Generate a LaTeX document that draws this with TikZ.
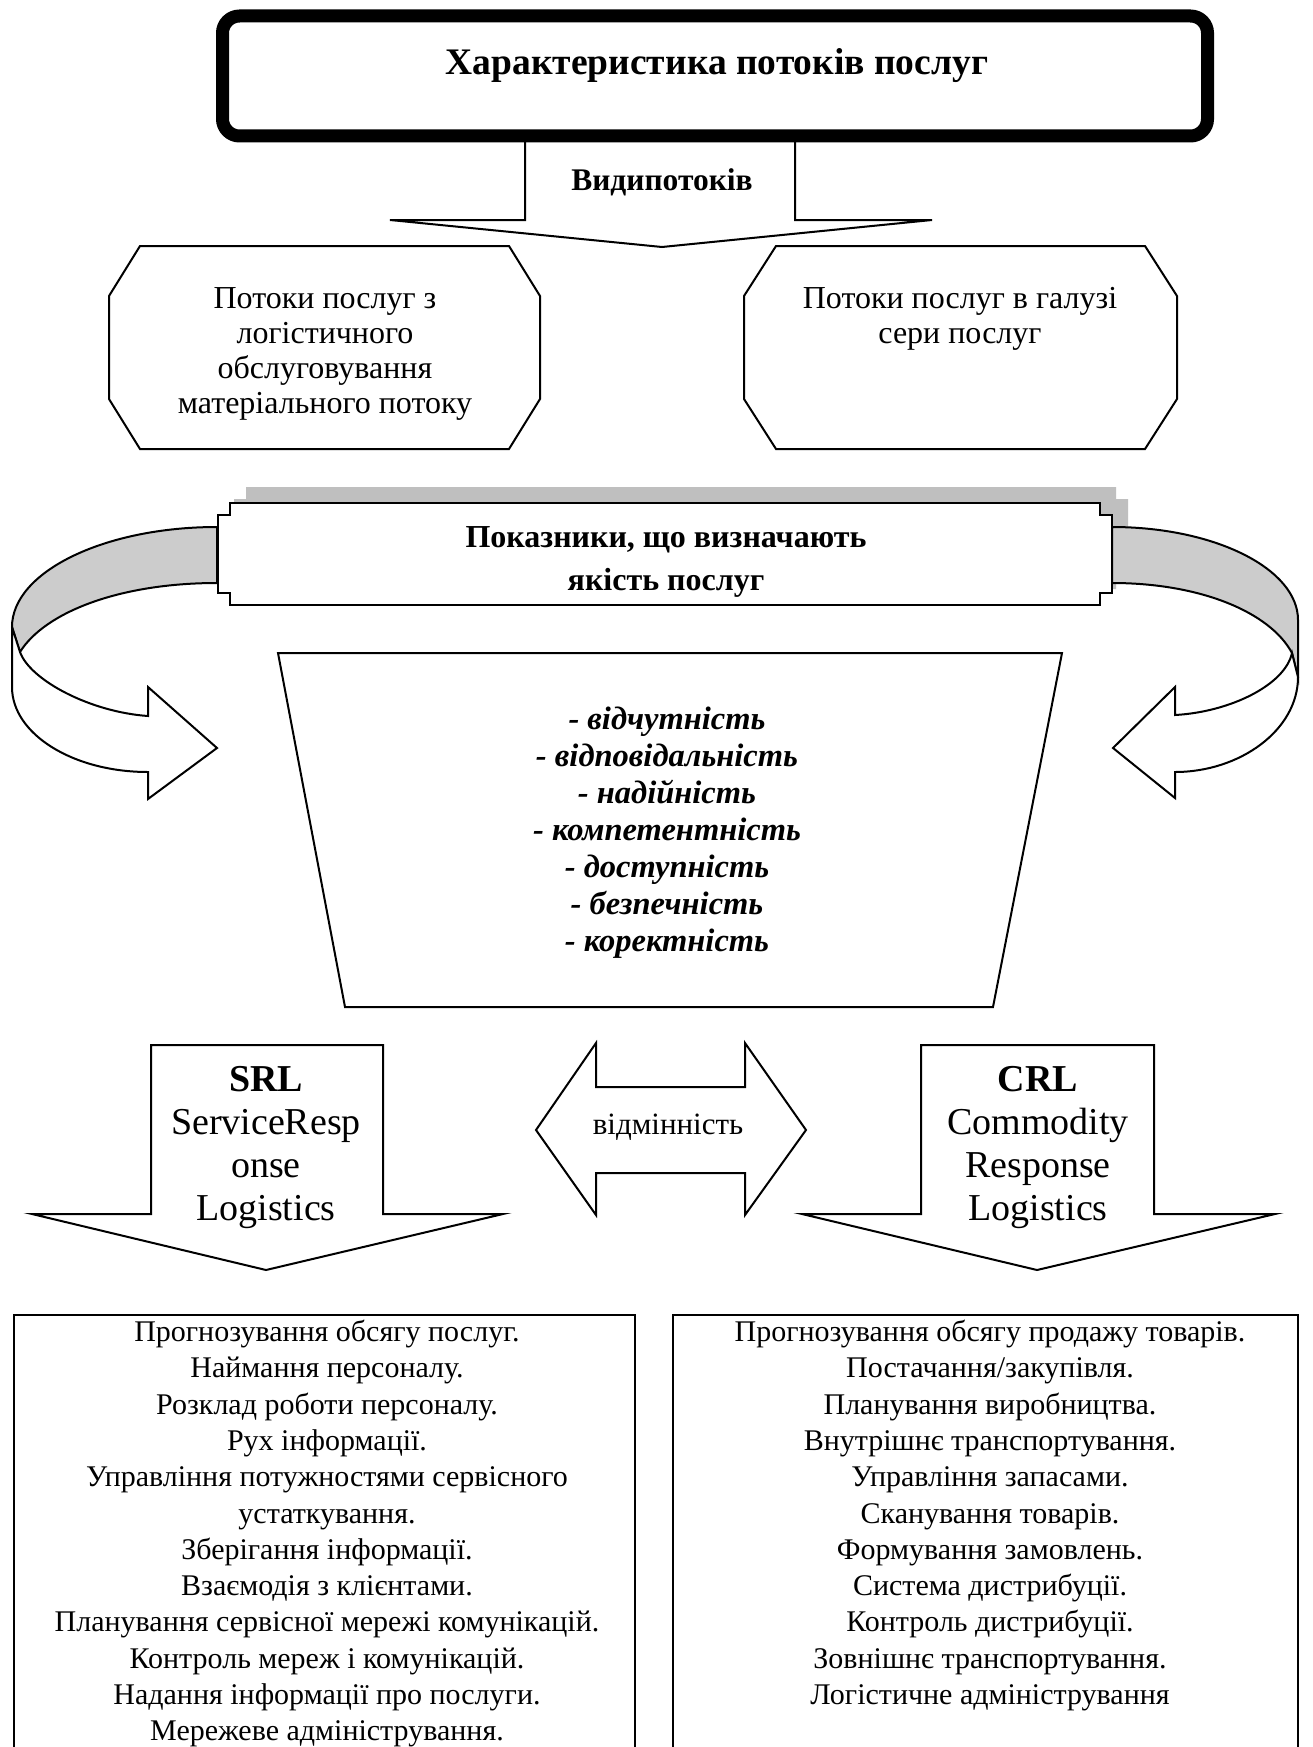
\documentclass[tikz,border=0pt]{standalone}
\usepackage{fontspec}
\setmainfont{Liberation Serif}
\newcommand\myfs[1]{\fontsize{#1}{#1}\selectfont}
\begin{document}
\begin{tikzpicture}[x=1pt,y=-1pt]
\tikzset{
  shp/.style={draw=black, line width=2pt, fill=white, line join=miter},
  ribfill/.style={fill=black!20},
  ribline/.style={draw=black, line width=2pt},
  txt/.style={anchor=base, inner sep=0pt, text=black},
  boxtxt/.style={txt, font=\myfs{30}},
  octtxt/.style={txt, font=\myfs{32}},
  bigtxt/.style={txt, font=\myfs{38}},
  qualtxt/.style={txt, font=\bfseries\itshape\myfs{32.5}},
}
\useasboundingbox[fill=white] (0,0) rectangle (1313,1747);

% ---------- top arrow and title ----------
\draw[shp] (525,140) -- (525,220) -- (390,220) -- (662,247) -- (932,220) -- (795,220) -- (795,140);
\node[draw, line width=13pt, rounded corners=17pt, fill=white, minimum width=985pt,
      minimum height=120pt, inner sep=0pt] (title) at (715,76) {};
\node[txt, font=\bfseries\myfs{37.5}] (titletxt) at (717,75) {Характеристика потоків послуг};
\node[txt, font=\bfseries\myfs{31.5}] (kinds) at (662,190) {Видипотоків};

% ---------- octagons ----------
\draw[shp] (140,246) -- (509,246) -- (540,296) -- (540,399) -- (509,449) -- (140,449) -- (109,399) -- (109,296) -- cycle;
\draw[shp] (776,246) -- (1145,246) -- (1177,296) -- (1177,399) -- (1145,449) -- (776,449) -- (744,399) -- (744,296) -- cycle;
\node[octtxt] (o1a) at (325,308) {Потоки послуг з};
\node[octtxt] (o1b) at (325,343) {логістичного};
\node[octtxt] (o1c) at (325,378) {обслуговування};
\node[octtxt] (o1d) at (325,413) {матеріального потоку};
\node[octtxt] (o2a) at (960,308) {Потоки послуг в галузі};
\node[octtxt] (o2b) at (960,343) {сери послуг};

% ---------- banner shadow ----------
\fill[black!25] (246,487) -- (1116,487) -- (1116,499) -- (1128,499) -- (1128,577) -- (1116,577)
  -- (1116,589) -- (246,589) -- (246,577) -- (234,577) -- (234,499) -- (246,499) -- cycle;

% ---------- left ribbon ----------
\path[ribfill, ribline] (217,527) .. controls (104,527) and (12,572) .. (12,627)
  -- (20,652) .. controls (45,612) and (120,583) .. (217,583) -- cycle;
\path[shp] (12,627) -- (12,687) .. controls (12,734) and (73,772) .. (148,772)
  -- (148,799) -- (217,748) -- (148,687) -- (148,716)
  .. controls (90,712) and (30,680) .. (20,652) -- cycle;

% ---------- right ribbon ----------
\path[ribfill, ribline] (1112,527) .. controls (1215,527) and (1298,569) .. (1298,620)
  -- (1298,677) -- (1292,653) .. controls (1270,612) and (1200,583) .. (1112,583) -- cycle;
\path[shp] (1298,677) .. controls (1298,730) and (1240,772) .. (1175,772)
  -- (1175,798) -- (1113,748) -- (1175,687) -- (1175,715)
  .. controls (1230,712) and (1285,685) .. (1292,653) -- cycle;

% ---------- banner ----------
\draw[shp] (230,503) -- (1100,503) -- (1100,515) -- (1112,515) -- (1112,593) -- (1100,593)
  -- (1100,605) -- (230,605) -- (230,593) -- (218,593) -- (218,515) -- (230,515) -- cycle;
\node[txt, font=\bfseries\myfs{32}] (ban1) at (666,547) {Показники, що визначають};
\node[txt, font=\bfseries\myfs{32}] (ban2) at (666,590) {якість послуг};

% ---------- trapezoid ----------
\draw[shp] (278,653) -- (1062,653) -- (993,1007) -- (345,1007) -- cycle;
\foreach \t [count=\i from 0] in {- відчутність, - відповідальність, - надійність,
   - компетентність, - доступність, - безпечність, - коректність}
  \node[qualtxt] (q\i) at (667,729+37.1*\i) {\t};

% ---------- lower arrows ----------
\draw[shp] (151,1045) -- (383,1045) -- (383,1214) -- (503,1214) -- (266,1270) -- (32,1214) -- (151,1214) -- cycle;
\draw[shp] (921,1045) -- (1154,1045) -- (1154,1214) -- (1275,1214) -- (1037,1270) -- (802,1214) -- (921,1214) -- cycle;
\draw[shp] (536,1130) -- (596,1043) -- (596,1087) -- (745,1087) -- (745,1043) -- (806,1130)
  -- (745,1215) -- (745,1173) -- (596,1173) -- (596,1215) -- cycle;
\node[txt, font=\myfs{31}] (diff) at (668,1134) {відмінність};

\node[txt, font=\bfseries\myfs{38}] (srl1) at (266,1091) {SRL};
\node[bigtxt] (srl2) at (266,1134) {ServiceResp};
\node[bigtxt] (srl3) at (266,1177) {onse};
\node[bigtxt] (srl4) at (266,1220) {Logistics};
\node[txt, font=\bfseries\myfs{38}] (crl1) at (1038,1091) {CRL};
\node[bigtxt] (crl2) at (1038,1134) {Commodity};
\node[bigtxt] (crl3) at (1038,1177) {Response};
\node[bigtxt] (crl4) at (1038,1220) {Logistics};

% ---------- bottom boxes ----------
\draw[shp, line width=2.5pt] (14,1315) rectangle (635,1770);
\draw[shp, line width=2.5pt] (673,1315) rectangle (1298,1770);
\foreach \t [count=\i from 0] in {Прогнозування обсягу послуг., Наймання персоналу.,
   Розклад роботи персоналу., Рух інформації., Управління потужностями сервісного,
   устаткування., Зберігання інформації., Взаємодія з клієнтами.,
   Планування сервісної мережі комунікацій., Контроль мереж і комунікацій.,
   Надання інформації про послуги., Мережеве адміністрування.}
  \node[boxtxt] (l\i) at (327,1341.5+36.3*\i) {\t};
\foreach \t [count=\i from 0] in {Прогнозування обсягу продажу товарів., Постачання/закупівля.,
   Планування виробництва., Внутрішнє транспортування., Управління запасами.,
   Сканування товарів., Формування замовлень., Система дистрибуції.,
   Контроль дистрибуції., Зовнішнє транспортування., Логістичне адміністрування}
  \node[boxtxt] (r\i) at (990,1341.5+36.3*\i) {\t};
\end{tikzpicture}
\end{document}
